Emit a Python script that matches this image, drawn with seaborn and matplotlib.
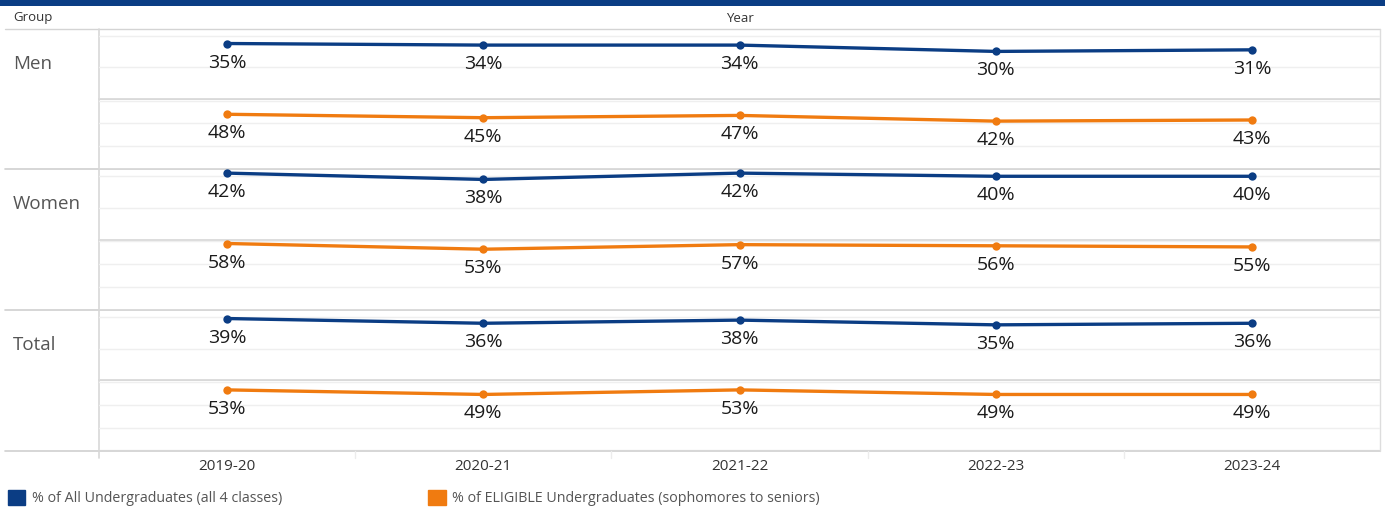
import matplotlib
matplotlib.use('Agg')
import matplotlib.pyplot as plt
from matplotlib.patches import Patch, Rectangle
import seaborn as sns
import pandas as pd

# data
years = ['2019-20', '2020-21', '2021-22', '2022-23', '2023-24']
groups = ['Men', 'Women', 'Total']
measures = ['% of All Undergraduates (all 4 classes)',
            '% of ELIGIBLE Undergraduates (sophomores to seniors)']

men_all = [35, 34, 34, 30, 31]
men_eligible = [48, 45, 47, 42, 43]
women_all = [42, 38, 42, 40, 40]
women_eligible = [58, 53, 57, 56, 55]
total_all = [39, 36, 38, 35, 36]
total_eligible = [53, 49, 53, 49, 49]

series = {
    ('Men', measures[0]): men_all,
    ('Men', measures[1]): men_eligible,
    ('Women', measures[0]): women_all,
    ('Women', measures[1]): women_eligible,
    ('Total', measures[0]): total_all,
    ('Total', measures[1]): total_eligible,
}
records = []
for (g, m), vals in series.items():
    for y, v in zip(years, vals):
        records.append({'Group': g, 'Measure': m, 'Year': y, 'Value': v})
df = pd.DataFrame(records)

colors = ['#0b3d84', '#f07b10']
y_max = [44.5, 61.5]

sns.set_style('white')
plt.rcParams['font.family'] = ['Open Sans', 'DejaVu Sans']

W, H = 1385, 508
fig = plt.figure(figsize=(W / 100, H / 100), dpi=100)


def rect(x0, y0, x1, y1):
    return [x0 / W, 1 - y1 / H, (x1 - x0) / W, (y1 - y0) / H]


# background layer in pixel coordinates
bg = fig.add_axes([0, 0, 1, 1])
bg.set_xlim(0, W)
bg.set_ylim(H, 0)
bg.axis('off')
bg.add_patch(Rectangle((0, 0), W, 5.5, color='#0b3d84', lw=0))

left, right = 99, 1380
top, bottom = 28.5, 450.5
row_h = (bottom - top) / 6
cell_w = (right - left) / len(years)

bg.text(13, 18, 'Group', fontsize=9.5, color='#333333', va='center')
bg.text((left + right) / 2, 18, 'Year', fontsize=9.5, color='#333333', va='center', ha='center')

bg.plot([5, right], [top, top], color='#d4d4d4', lw=1)
for gi in range(1, 4):
    yy = top + 2 * gi * row_h
    bg.plot([5, right], [yy, yy], color='#cfcfcf', lw=1.2)
for gi in range(3):
    yy = top + (2 * gi + 1) * row_h
    bg.plot([left, right], [yy, yy], color='#d2d2d2', lw=1.2)
bg.plot([left, left], [top, bottom + 7], color='#d8d8d8', lw=1.2)
bg.plot([right, right], [top, bottom], color='#dddddd', lw=1)
for k in range(1, len(years)):
    xx = left + k * cell_w
    bg.plot([xx, xx], [bottom, bottom + 7], color='#ececec', lw=1)

for gi, g in enumerate(groups):
    bg.text(13, top + 2 * gi * row_h + row_h / 2, g, fontsize=13.5,
            color='#555555', va='center')

# one small axes per group / measure row
for gi, g in enumerate(groups):
    for mi, m in enumerate(measures):
        k = gi * 2 + mi
        y0 = top + k * row_h
        ax = fig.add_axes(rect(left, y0, right, y0 + row_h))
        ax.patch.set_alpha(0)
        sub = df[(df['Group'] == g) & (df['Measure'] == m)]
        sns.lineplot(data=sub, x='Year', y='Value', color=colors[mi],
                     marker='o', markersize=6, markeredgewidth=0,
                     linewidth=2.4, sort=False, ax=ax)
        ax.set_yticks([0, 20, 40, 60])
        ax.set_yticklabels([])
        ax.set_xlim(-0.5, len(years) - 0.5)
        ax.set_ylim(0, y_max[mi])
        ax.grid(axis='y', color='#efefef', lw=1)
        ax.set_axisbelow(True)
        for s in ax.spines.values():
            s.set_visible(False)
        ax.set_xlabel('')
        ax.set_ylabel('')
        ax.tick_params(left=False, length=0)
        if k < 5:
            ax.tick_params(labelbottom=False)
        else:
            ax.tick_params(axis='x', labelsize=11, labelcolor='#333333', pad=6)
        for i, v in enumerate(sub['Value']):
            ax.annotate(f'{v}%', (i, v), xytext=(0, -19), textcoords='offset pixels',
                        ha='center', va='center', fontsize=14, color='#1a1a1a')

handles = [Patch(color=colors[i], label=measures[i]) for i in range(2)]
fig.legend(handles=handles, loc='center left', bbox_to_anchor=(8 / W, 1 - 498 / H),
           ncol=2, frameon=False, fontsize=10.3, labelcolor='#555555',
           handlelength=1.2, handleheight=1.2, handletextpad=0.45,
           columnspacing=10.25, borderaxespad=0, borderpad=0)

fig.savefig('out.png', dpi=100)
